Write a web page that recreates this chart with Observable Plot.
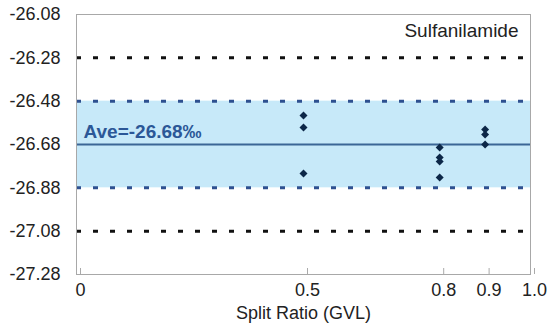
<!DOCTYPE html>
<html>
<head>
<meta charset="utf-8">
<script src="https://cdn.jsdelivr.net/npm/d3@7"></script>
<script src="https://cdn.jsdelivr.net/npm/@observablehq/plot@0.6"></script>
<style>
  html, body { margin: 0; padding: 0; background: #fff; }
  #chart { width: 550px; height: 323px; }
</style>
</head>
<body>
<div id="chart"></div>
<script>
// Data
const splitRatios = [0.5, 0.5, 0.5, 0.8, 0.8, 0.8, 0.8, 0.9, 0.9, 0.9];
const d13C = [-26.546, -26.601, -26.814, -26.694, -26.740, -26.758, -26.832, -26.611, -26.634, -26.680];
const average = -26.68;
const bandLimits = [-26.88, -26.48];
const outerLimits = [-27.08, -26.28];
const yTicks = [-26.08, -26.28, -26.48, -26.68, -26.88, -27.08, -27.28];
const xTicks = [0, 0.5, 0.8, 0.9, 1.0];
const compoundName = "Sulfanilamide";
const aveLabel = "Ave=-26.68‰";
const xLabel = "Split Ratio (GVL)";

const points = splitRatios.map((x, i) => ({x, y: d13C[i]}));
const fmtX = d => d === 0 ? "0" : d.toFixed(1);

const chart = Plot.plot({
  width: 550,
  height: 323,
  marginLeft: 76,
  marginRight: 20,
  marginTop: 14,
  marginBottom: 49,
  style: {background: "#fff", fontSize: "18px", color: "#222", fontFamily: "'Liberation Sans', Arial, sans-serif"},
  x: {domain: [0, 1], ticks: xTicks, tickFormat: fmtX, label: null},
  y: {domain: [-27.28, -26.08], ticks: yTicks, tickFormat: d => d.toFixed(2), label: null},
  marks: [
    Plot.rect([{lo: bandLimits[0], hi: bandLimits[1]}], {x1: () => 0, x2: () => 1, y1: "lo", y2: "hi", fill: "#c7e9f9"}),
    Plot.ruleY(bandLimits, {stroke: "#2e5090", strokeWidth: 3, strokeDasharray: "5,12"}),
    Plot.ruleY(outerLimits, {stroke: "#111", strokeWidth: 3, strokeDasharray: "5,12"}),
    Plot.ruleY([average], {stroke: "#3b6696", strokeWidth: 2}),
    Plot.frame({stroke: "#a8a8a8"}),
    Plot.axisX({ticks: xTicks, tickFormat: fmtX, tickSize: -6, tickPadding: 15, dx: 4, stroke: "#aaa", fill: "#222", fontSize: 18, label: null}),
    Plot.axisY({ticks: yTicks, tickFormat: d => d.toFixed(2), tickSize: 0, tickPadding: 16, fill: "#222", fontSize: 18, label: null}),
    Plot.text([xLabel], {frameAnchor: "bottom", dy: 44, text: d => d, fontSize: 18, fill: "#222", lineAnchor: "bottom"}),
    Plot.text([compoundName], {frameAnchor: "top-right", dx: -12, dy: 9, text: d => d, fontSize: 19, fill: "#222", textAnchor: "end", lineAnchor: "top"}),
    Plot.text([aveLabel], {frameAnchor: "left", y: () => average, dx: 7, dy: -7, text: d => d, fontSize: 19, fontWeight: "bold", fill: "#2b5797", textAnchor: "start", lineAnchor: "bottom"}),
    Plot.dot(points, {x: "x", y: "y", symbol: "diamond2", r: 3.6, fill: "#0c2748", stroke: "none"})
  ]
});
document.getElementById("chart").appendChild(chart);
</script>
</body>
</html>
